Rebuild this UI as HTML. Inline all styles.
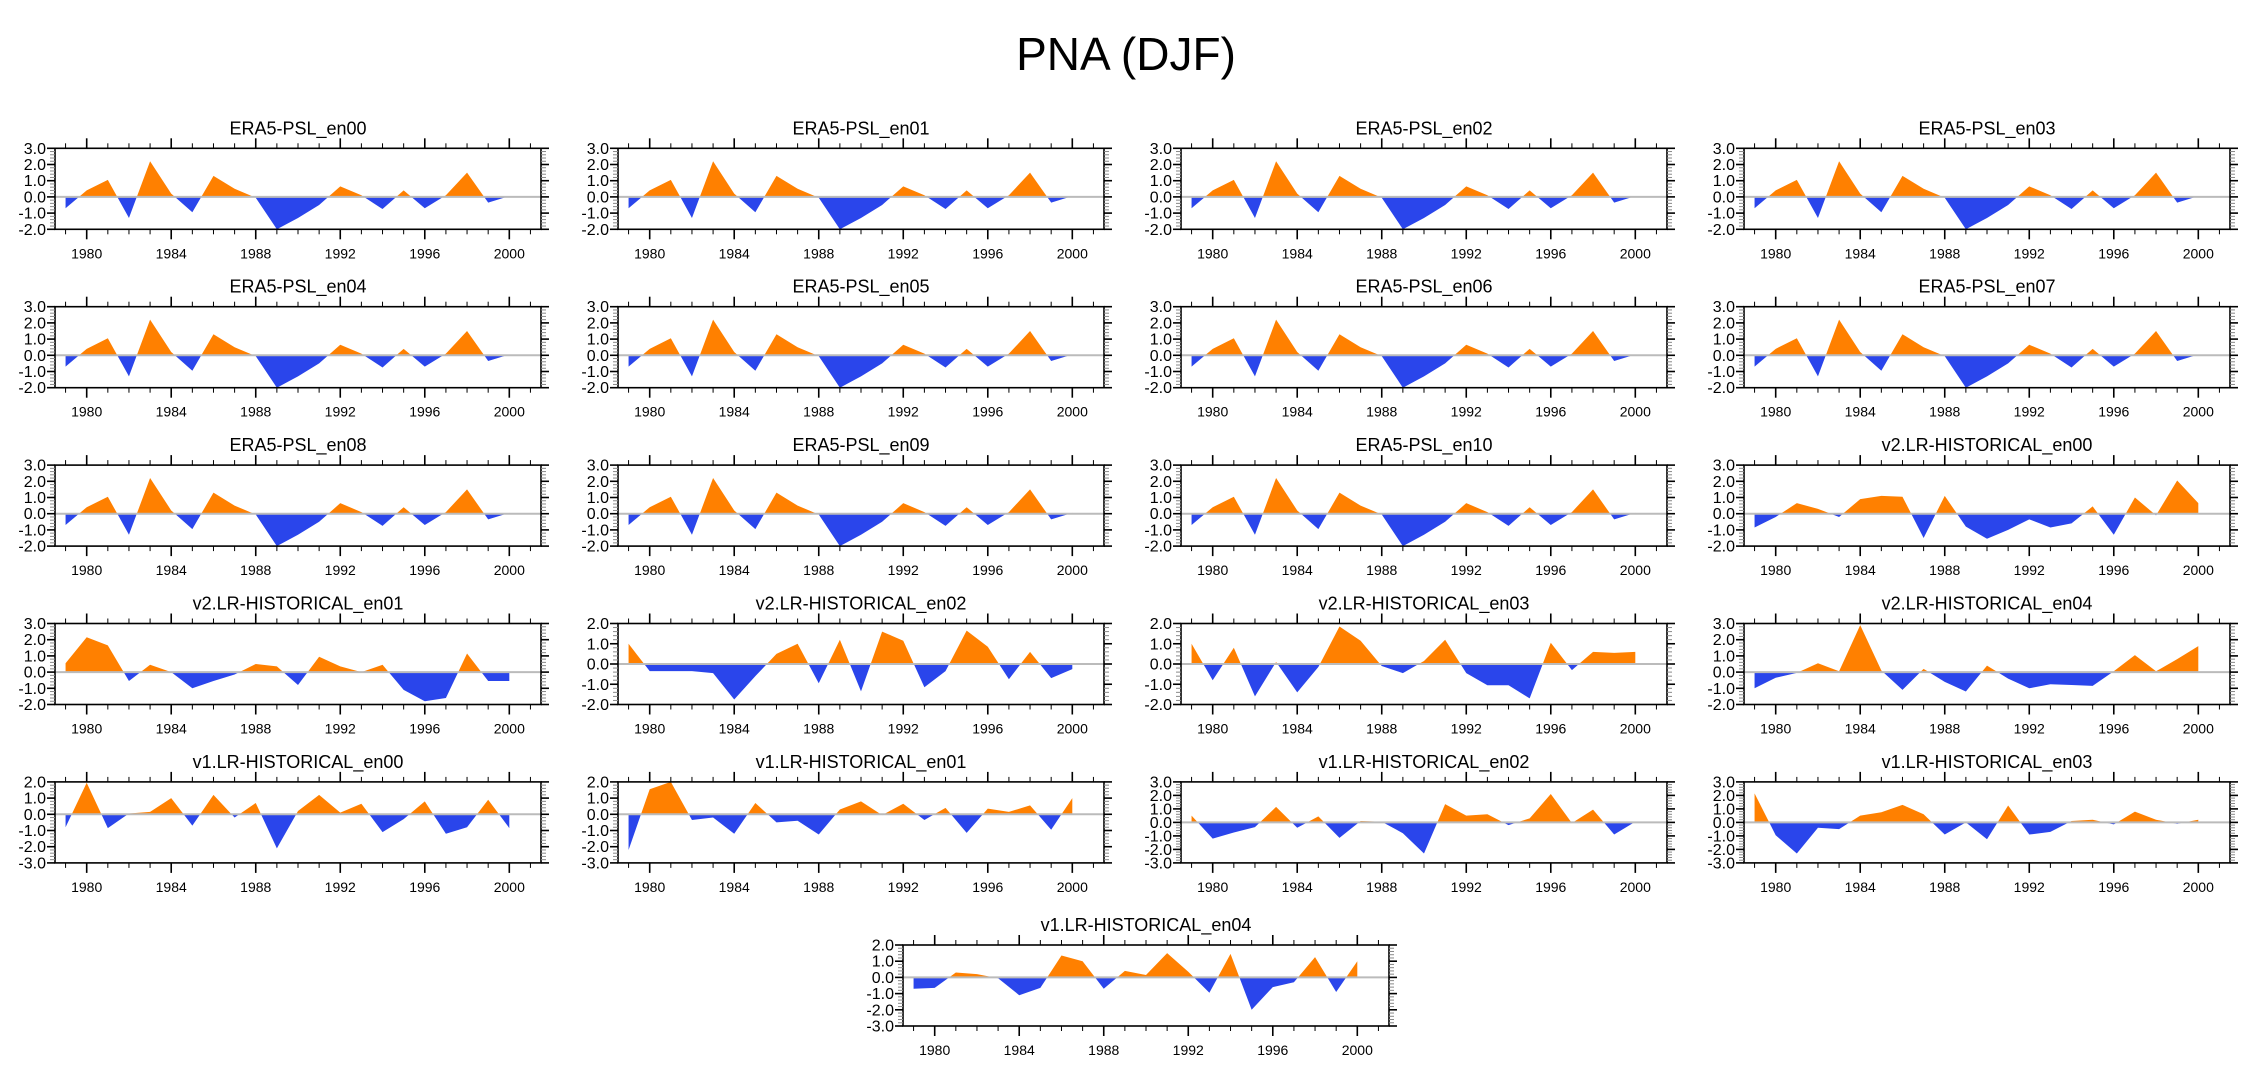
<!DOCTYPE html>
<html><head><meta charset="utf-8"><style>
html,body{margin:0;padding:0;background:#fff;}
svg{display:block;font-family:"Liberation Sans",sans-serif;}
</style></head><body>
<svg id="c" width="2252" height="1078" viewBox="0 0 2252 1078">
<text x="1126" y="70" text-anchor="middle" font-size="46">PNA (DJF)</text>
</svg>
<script>
const years = [1979,1980,1981,1982,1983,1984,1985,1986,1987,1988,1989,1990,1991,1992,1993,1994,1995,1996,1997,1998,1999,2000];
const era5 = [-0.7,0.4,1.05,-1.3,2.2,0.2,-0.95,1.3,0.5,-0.05,-2.0,-1.3,-0.5,0.65,0.1,-0.75,0.4,-0.7,0.1,1.5,-0.35,0.05];
const v2en00 = [-0.85,-0.2,0.65,0.3,-0.2,0.9,1.1,1.05,-1.5,1.1,-0.8,-1.55,-1.0,-0.35,-0.85,-0.6,0.45,-1.3,1.0,-0.1,2.05,0.65];
const v2en01 = [0.55,2.15,1.65,-0.55,0.45,0.0,-1.0,-0.55,-0.15,0.5,0.35,-0.8,0.95,0.35,0.0,0.45,-1.1,-1.8,-1.6,1.15,-0.55,-0.55];
const v2en02 = [1.0,-0.35,-0.35,-0.35,-0.45,-1.75,-0.6,0.5,1.0,-0.95,1.2,-1.35,1.6,1.15,-1.15,-0.35,1.65,0.85,-0.75,0.6,-0.7,-0.25];
const v2en03 = [1.0,-0.8,0.8,-1.6,0.1,-1.4,-0.15,1.85,1.15,-0.1,-0.45,0.15,1.2,-0.45,-1.05,-1.05,-1.7,1.05,-0.3,0.6,0.55,0.6];
const v2en04 = [-1.0,-0.35,-0.05,0.55,0.05,2.9,0.1,-1.1,0.2,-0.6,-1.2,0.4,-0.4,-1.0,-0.75,-0.8,-0.85,0.05,1.05,0.05,0.8,1.6];
const v1en00 = [-0.8,1.95,-0.85,0.05,0.15,1.0,-0.7,1.2,-0.2,0.7,-2.1,0.2,1.2,0.1,0.65,-1.1,-0.3,0.8,-1.2,-0.8,0.9,-0.85];
const v1en01 = [-2.2,1.55,2.0,-0.35,-0.2,-1.2,0.7,-0.5,-0.4,-1.25,0.3,0.8,-0.05,0.65,-0.35,0.4,-1.15,0.35,0.15,0.55,-0.95,1.0];
const v1en02 = [0.5,-1.2,-0.75,-0.35,1.15,-0.4,0.45,-1.15,0.1,0.05,-0.8,-2.3,1.35,0.5,0.6,-0.2,0.3,2.1,-0.05,0.95,-0.9,0.05];
const v1en03 = [2.15,-0.95,-2.3,-0.4,-0.5,0.5,0.75,1.3,0.6,-0.9,0.0,-1.25,1.25,-0.9,-0.7,0.1,0.2,-0.15,0.8,0.2,-0.1,0.2];
const v1en04 = [-0.7,-0.65,0.3,0.2,-0.05,-1.1,-0.65,1.35,1.0,-0.7,0.4,0.15,1.5,0.35,-0.95,1.45,-2.0,-0.6,-0.3,1.25,-0.9,1.0];
const xTickLabels = [1980,1984,1988,1992,1996,2000];

const panels = [];
for (let i=0;i<11;i++) panels.push({t:'ERA5-PSL_en'+String(i).padStart(2,'0'), d:era5, lo:-2, hi:3});
panels.push({t:'v2.LR-HISTORICAL_en00', d:v2en00, lo:-2, hi:3});
panels.push({t:'v2.LR-HISTORICAL_en01', d:v2en01, lo:-2, hi:3});
panels.push({t:'v2.LR-HISTORICAL_en02', d:v2en02, lo:-2, hi:2});
panels.push({t:'v2.LR-HISTORICAL_en03', d:v2en03, lo:-2, hi:2});
panels.push({t:'v2.LR-HISTORICAL_en04', d:v2en04, lo:-2, hi:3});
panels.push({t:'v1.LR-HISTORICAL_en00', d:v1en00, lo:-3, hi:2});
panels.push({t:'v1.LR-HISTORICAL_en01', d:v1en01, lo:-3, hi:2});
panels.push({t:'v1.LR-HISTORICAL_en02', d:v1en02, lo:-3, hi:3});
panels.push({t:'v1.LR-HISTORICAL_en03', d:v1en03, lo:-3, hi:3});
panels.push({t:'v1.LR-HISTORICAL_en04', d:v1en04, lo:-3, hi:2});

const NS='http://www.w3.org/2000/svg';
const svg=document.getElementById('c');
function mk(tag, attrs, parent){const e=document.createElementNS(NS,tag);for(const k in attrs)e.setAttribute(k,attrs[k]);(parent||svg).appendChild(e);return e;}

const W=486, H=81, X0=1978.5, X1=2001.5;
panels.forEach((p,idx)=>{
  let L,T;
  if(idx<20){L=55+563*(idx%4);T=148.3+158.4*Math.floor(idx/4);}
  else {L=903;T=945;}
  const g=mk('g',{});
  
  
  const xs=y=>L+(y-X0)/(X1-X0)*W;
  const ys=v=>T+(p.hi-v)/(p.hi-p.lo)*H;
  const tt=mk('text',{x:L+W/2,y:T-14,'text-anchor':'middle','font-size':18},g);
  tt.textContent=p.t;
  
  
  // area
  const y0=ys(0);
  let pts=xs(years[0])+','+y0+' ';
  p.d.forEach((v,i)=>{pts+=xs(years[i])+','+ys(v)+' ';});
  pts+=xs(years[years.length-1])+','+y0;
  const cid='cp'+idx;
  const defs=mk('defs',{},g);
  const c1=mk('clipPath',{id:cid+'a'},defs);mk('rect',{x:L,y:T,width:W,height:y0-T},c1);
  const c2=mk('clipPath',{id:cid+'b'},defs);mk('rect',{x:L,y:y0,width:W,height:T+H-y0},c2);
  const pos=mk('polygon',{points:pts,fill:'#ff8000','clip-path':'url(#'+cid+'a)'},g);
  
  
  const neg=mk('polygon',{points:pts,fill:'#2a45eb','clip-path':'url(#'+cid+'b)'},g);
  
  
  const zl=mk('line',{x1:L,x2:L+W,y1:y0,y2:y0,stroke:'#bbb','stroke-width':2},g);
  
  
  // box
  const bx=mk('rect',{x:L,y:T,width:W,height:H,fill:'none',stroke:'#000','stroke-width':1.6},g);
  
  
  // x ticks
  for(let y=1979;y<=2001;y++){
    const major=(y%4===0);const len=major?10:5;const x=xs(y);
    mk('line',{x1:x,x2:x,y1:T,y2:T-len,stroke:'#000','stroke-width':major?1.6:1},g);
    mk('line',{x1:x,x2:x,y1:T+H,y2:T+H+len,stroke:'#000','stroke-width':major?1.6:1},g);
  }
  xTickLabels.forEach(yr=>{
    const tl=mk('text',{x:xs(yr),y:T+H+29,'text-anchor':'middle','font-size':14},g);
    tl.textContent=String(yr);
    
    
  });
  // y ticks
  for(let k=Math.round(p.lo*5);k<=Math.round(p.hi*5);k++){
    const v=k/5;const major=(k%5===0);const len=major?8:5;const y=ys(v);
    mk('line',{x1:L,x2:L-len,y1:y,y2:y,stroke:major?'#000':'#888','stroke-width':major?1.6:1},g);
    mk('line',{x1:L+W,x2:L+W+len,y1:y,y2:y,stroke:major?'#000':'#888','stroke-width':major?1.6:1},g);
    if(major){
      const yl=mk('text',{x:L-9,y:y+5.5,'text-anchor':'end','font-size':16},g);
      yl.textContent=v.toFixed(1);
      
      
    }
  }
});
</script>
</body></html>
